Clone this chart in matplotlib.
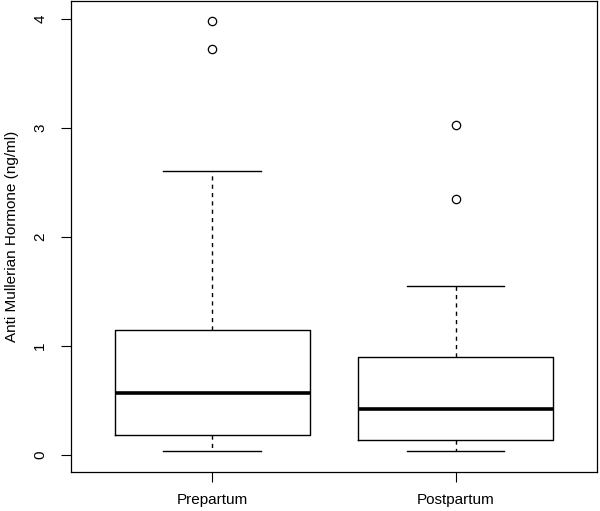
import matplotlib
matplotlib.use("Agg")
import matplotlib.pyplot as plt

# values (ng/ml)
groups = ["Prepartum", "Postpartum"]
q1 = [0.18, 0.14]
medians = [0.57, 0.42]
q3 = [1.15, 0.90]
whis_lo = [0.04, 0.04]
whis_hi = [2.60, 1.55]
outliers = [[3.98, 3.72], [3.02, 2.35]]
y_ticks = [0, 1, 2, 3, 4]

plt.rcParams["font.family"] = ["Liberation Sans", "DejaVu Sans"]

fig = plt.figure(figsize=(6.0, 5.11), dpi=100)
ax = fig.add_axes([0.118, 0.0763, 0.877, 0.921])

stats = []
for i, g in enumerate(groups):
    stats.append(dict(label=g, q1=q1[i], med=medians[i], q3=q3[i],
                      whislo=whis_lo[i], whishi=whis_hi[i], fliers=outliers[i]))

ax.bxp(stats, positions=[1, 2], widths=0.8, showfliers=True, patch_artist=False,
       boxprops=dict(color="black", linewidth=1.0),
       medianprops=dict(color="black", linewidth=2.6, solid_capstyle="butt"),
       whiskerprops=dict(color="black", linewidth=1.0, linestyle=(0, (3, 3))),
       capprops=dict(color="black", linewidth=1.0),
       capwidths=0.4,
       flierprops=dict(marker="o", markerfacecolor="none", markeredgecolor="black",
                       markersize=6, markeredgewidth=0.9))

ax.set_xlim(0.42, 2.58)
ax.set_ylim(-0.156, 4.157)
ax.set_yticks(y_ticks)
ax.set_yticklabels([str(t) for t in y_ticks], rotation=90, va="center")
ax.set_xticks([1, 2])
ax.set_xticklabels(groups)
ax.tick_params(axis="both", length=7, width=0.8, labelsize=11)
ax.tick_params(axis="x", pad=8)
ax.tick_params(axis="y", pad=10)
ax.set_ylabel("Anti Mullerian Hormone (ng/ml)", fontsize=11, labelpad=10)
for s in ax.spines.values():
    s.set_linewidth(0.9)

fig.savefig("out.png", dpi=100)
